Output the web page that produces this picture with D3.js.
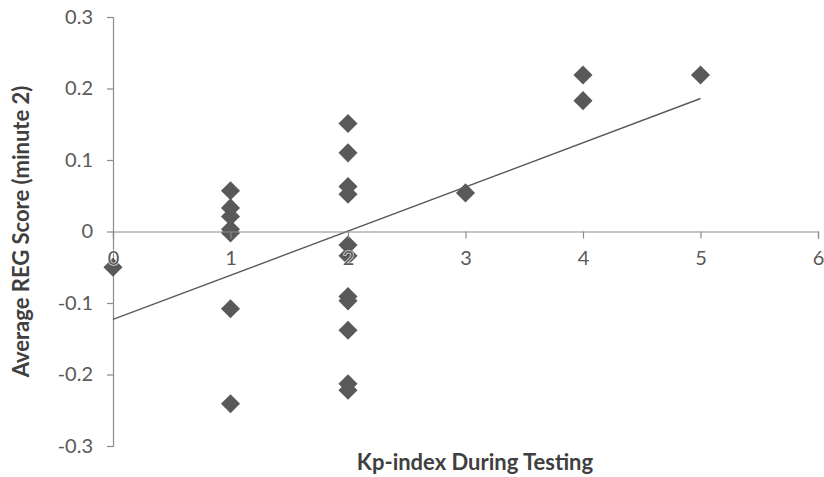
<!DOCTYPE html>
<html>
<head>
<meta charset="utf-8">
<script src="https://cdn.jsdelivr.net/npm/d3@7"></script>
<style>
  html, body { margin: 0; padding: 0; background: #fff; }
  svg { display: block; }
  text { font-family: Lato, "Open Sans", sans-serif; }
</style>
</head>
<body>
<svg id="chart" width="824" height="477"></svg>
<script>
// ---- data ----
const kpIndex = [0, 1, 1, 1, 1, 1, 1, 1,
                 2, 2, 2, 2, 2, 2, 2, 2, 2, 2, 2,
                 3, 4, 4, 5];
const regScore = [-0.050, 0.057, 0.033, 0.021, 0.003, -0.002, -0.108, -0.241,
                  0.151, 0.110, 0.063, 0.052, -0.019, -0.034, -0.091, -0.097, -0.138, -0.213, -0.222,
                  0.054, 0.219, 0.183, 0.219];
const trendX = [0, 5];
const trendY = [-0.123, 0.186];
const xTicks = [0, 1, 2, 3, 4, 5, 6];
const yTicks = [0.3, 0.2, 0.1, 0, -0.1, -0.2, -0.3];
const yTickLabels = ["0.3", "0.2", "0.1", "0", "-0.1", "-0.2", "-0.3"];
const xTitle = "Kp-index During Testing";
const yTitle = "Average REG Score (minute 2)";

// ---- layout ----
const svg = d3.select("#chart");
const x = d3.scaleLinear().domain([0, 6]).range([113, 818]);
const y = d3.scaleLinear().domain([-0.3, 0.3]).range([446, 17]);
const axisColor = "#8a8a8a";
const labelColor = "#595959";
const titleColor = "#404040";

// y axis
const yAxis = svg.append("g").attr("transform", `translate(${x(0)},0)`)
  .call(d3.axisLeft(y).tickValues(yTicks).tickSize(6).tickPadding(14)
        .tickFormat((d, i) => yTickLabels[i]));
yAxis.select(".domain").attr("stroke", axisColor).attr("stroke-width", 1.2);
yAxis.selectAll(".tick line").attr("stroke", axisColor).attr("stroke-width", 1.2);
yAxis.selectAll(".tick text").attr("fill", labelColor).attr("font-size", 20)
  .attr("font-family", "Lato, 'Open Sans', sans-serif");

// points
const pts = kpIndex.map((k, i) => ({ k, v: regScore[i] }));
svg.append("g").selectAll("path").data(pts).join("path")
  .attr("d", d3.symbol().type(d3.symbolSquare).size(182))
  .attr("transform", d => `translate(${x(d.k)},${y(d.v)}) rotate(45)`)
  .attr("fill", "#595959");

// trend line
svg.append("line")
  .attr("x1", x(trendX[0])).attr("y1", y(trendY[0]))
  .attr("x2", x(trendX[1])).attr("y2", y(trendY[1]))
  .attr("stroke", "#5a5a5a").attr("stroke-width", 1.4);

// x axis at zero
const xAxis = svg.append("g").attr("transform", `translate(0,${y(0)})`)
  .call(d3.axisBottom(x).tickValues(xTicks).tickSize(7).tickPadding(12)
        .tickFormat(d => String(d)));
xAxis.select(".domain").attr("stroke", axisColor).attr("stroke-width", 1.2);
xAxis.selectAll(".tick line").attr("stroke", axisColor).attr("stroke-width", 1.2);
xAxis.selectAll(".tick text").attr("fill", labelColor).attr("font-size", 20)
  .attr("font-family", "Lato, 'Open Sans', sans-serif")
  .attr("stroke", "#ffffff").attr("stroke-width", 1.6)
  .attr("stroke-opacity", 0.8)
  .attr("paint-order", "stroke");

// titles
svg.append("text")
  .attr("x", 475).attr("y", 470)
  .attr("text-anchor", "middle")
  .attr("font-size", 22).attr("font-weight", "bold").attr("fill", titleColor)
  .text(xTitle);
svg.append("text")
  .attr("transform", `translate(29,${y(0)}) rotate(-90)`)
  .attr("text-anchor", "middle")
  .attr("font-size", 22).attr("font-weight", "bold").attr("fill", titleColor)
  .text(yTitle);
</script>
</body>
</html>
